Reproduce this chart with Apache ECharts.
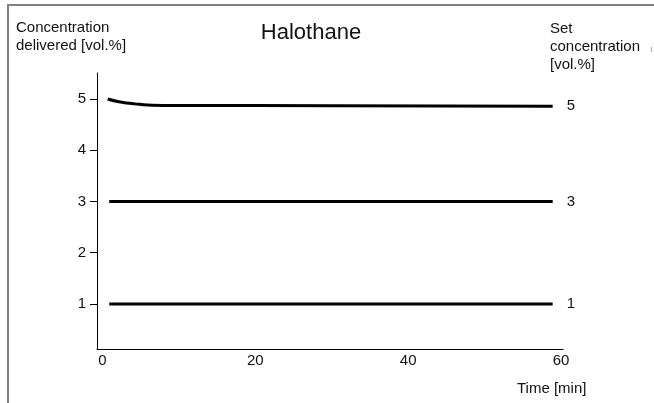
<!DOCTYPE html>
<html>
<head>
<meta charset="utf-8">
<style>
  html, body { margin: 0; padding: 0; background: #fff; }
  #chart { width: 654px; height: 403px; }
</style>
<script src="https://cdn.jsdelivr.net/npm/echarts@6/dist/echarts.min.js"></script>
</head>
<body>
<div id="chart"></div>
<script>
// Data
var xTicks = [0, 20, 40, 60];
var yTicks = [1, 2, 3, 4, 5];
var setConcentrations = [5, 3, 1];
// delivered concentration over time [min, vol.%]
var delivered5 = [[0.7, 5.0], [2.0, 4.95], [3.2, 4.92], [4.9, 4.895], [6.5, 4.88], [10, 4.875], [30, 4.87], [58.9, 4.86]];
var delivered3 = [[0.9, 3.0], [58.9, 3.0]];
var delivered1 = [[0.9, 1.0], [58.9, 1.0]];

var font = '"Liberation Sans", Arial, Helvetica, sans-serif';

function lineSeries(data, setValue) {
  return {
    type: 'line',
    data: data,
    smooth: true,
    symbol: 'none',
    lineStyle: { color: '#000', width: 3 },
    endLabel: {
      show: true,
      formatter: String(setValue),
      distance: 14,
      color: '#111',
      fontSize: 15,
      fontFamily: font
    },
    animation: false
  };
}

var chart = echarts.init(document.getElementById('chart'), null, { renderer: 'canvas' });

chart.setOption({
  animation: false,
  grid: { left: 97, right: 91, top: 73, bottom: 54 },
  xAxis: {
    type: 'value',
    min: -0.7,
    max: 60.25,
    splitLine: { show: false },
    axisLine: { show: true, onZero: false, lineStyle: { color: '#000', width: 1 } },
    axisTick: { show: false },
    axisLabel: {
      customValues: xTicks,
      margin: 4,
      color: '#111',
      fontSize: 15,
      fontFamily: font
    }
  },
  yAxis: {
    type: 'value',
    min: 0.122,
    max: 5.507,
    splitLine: { show: false },
    axisLine: { show: true, onZero: false, lineStyle: { color: '#000', width: 1 } },
    axisTick: { show: true, customValues: yTicks, length: 7, lineStyle: { color: '#000', width: 1 } },
    axisLabel: {
      customValues: yTicks,
      margin: 11,
      color: '#111',
      fontSize: 15,
      fontFamily: font
    }
  },
  series: [
    lineSeries(delivered5, setConcentrations[0]),
    lineSeries(delivered3, setConcentrations[1]),
    lineSeries(delivered1, setConcentrations[2])
  ],
  graphic: [
    // frame
    { type: 'line', shape: { x1: 7, y1: 5, x2: 654, y2: 5 }, style: { stroke: '#808080', lineWidth: 2 } },
    { type: 'line', shape: { x1: 8, y1: 4, x2: 8, y2: 403 }, style: { stroke: '#808080', lineWidth: 2 } },
    { type: 'line', shape: { x1: 651.5, y1: 47, x2: 651.5, y2: 52 }, style: { stroke: '#aaa', lineWidth: 1 } },
    // texts
    {
      type: 'text', x: 311, y: 33,
      style: { text: 'Halothane', fill: '#111', fontSize: 22, fontFamily: font, align: 'center', verticalAlign: 'middle' }
    },
    {
      type: 'text', left: 16, top: 19,
      style: { text: 'Concentration\ndelivered [vol.%]', fill: '#111', fontSize: 15, lineHeight: 18, fontFamily: font }
    },
    {
      type: 'text', left: 550, top: 20,
      style: { text: 'Set\nconcentration\n[vol.%]', fill: '#111', fontSize: 15, lineHeight: 18, fontFamily: font }
    },
    {
      type: 'text', left: 517, top: 381,
      style: { text: 'Time [min]', fill: '#111', fontSize: 15, fontFamily: font }
    }
  ]
});
</script>
</body>
</html>
